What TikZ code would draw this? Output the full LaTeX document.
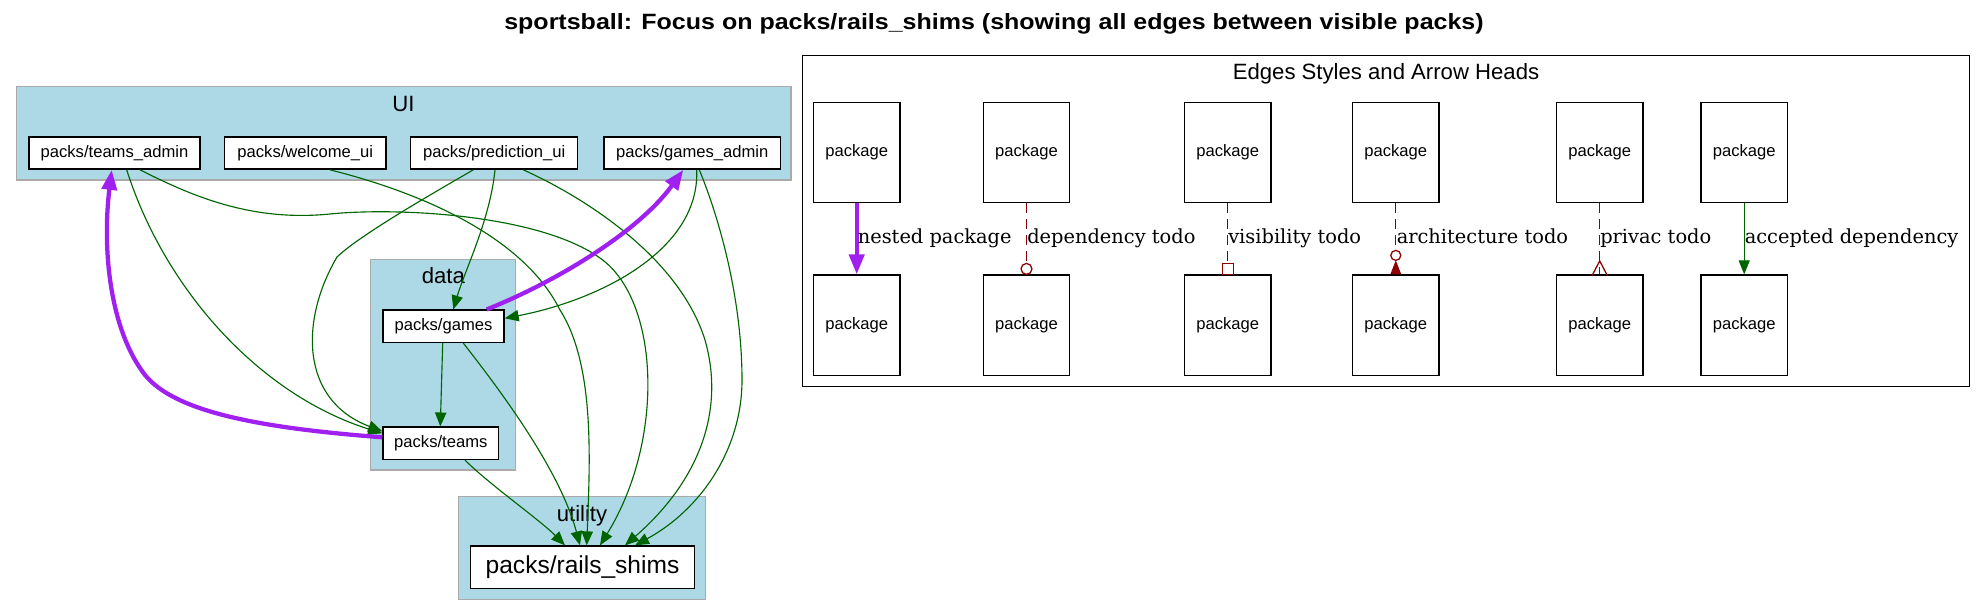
\documentclass[tikz,border=0pt]{standalone}
\usepackage{fontspec}
\setmainfont{Liberation Sans}
\newfontfamily\lblfont{DejaVu Serif}
\usetikzlibrary{arrows.meta,calc}
\definecolor{gvpurple}{RGB}{160,32,240}
\definecolor{gvgreen}{RGB}{0,100,0}
\definecolor{gvred}{RGB}{139,0,0}
\definecolor{gvblue}{RGB}{173,216,230}
\definecolor{gvgray}{RGB}{170,170,170}
\begin{document}
\begin{tikzpicture}[x=0.75pt,y=-0.75pt,
  pack/.style={draw=black, line width=1.05pt, fill=white, inner sep=0pt, minimum height=24.2pt, font=\fontsize{12.45}{14}\selectfont},
  legpack/.style={draw=black, line width=1.05pt, fill=white, inner sep=0pt, minimum width=64.9pt, minimum height=75.3pt, font=\fontsize{12.45}{14}\selectfont},
  cluster/.style={fill=gvblue, draw=gvgray, line width=1.05pt},
  clabel/.style={font=\fontsize{16.6}{20}\selectfont, anchor=base, inner sep=0pt},
  dep/.style={color=gvgreen, line width=0.85pt, -{Triangle[length=10.5pt,width=8.5pt]}},
  nest/.style={color=gvpurple, line width=3.2pt, -{Triangle[length=15pt,width=11.25pt]}},
  todo/.style={color=gvred, line width=0.95pt, dash pattern=on 7.5pt off 4.5pt},
  tiptodo/.style={color=gvred, line width=0.95pt},
  elabel/.style={font=\lblfont\fontsize{14.55}{17}\selectfont, anchor=base west, inner sep=0pt},
]
\useasboundingbox (0,0) rectangle (1986,616);

% title
\node[font=\bfseries\fontsize{16.6}{20}\selectfont, anchor=base, inner sep=0pt] (title) at (994,29.5)
  {\scalebox{1.13}[1]{sportsball: Focus on packs/rails\_shims (showing all edges between visible packs)}};

% clusters
\draw[cluster] (16.3,86.7) rectangle (790.8,180);
\node[clabel] (uilbl) at (403.5,111.7) {UI};
\draw[cluster] (370.7,259.3) rectangle (515.7,470);
\node[clabel] (datalbl) at (443.3,284) {data};
\draw[cluster] (458.3,496.3) rectangle (705.7,599.3);
\node[clabel] (utillbl) at (582,521.7) {utility};

% nodes
\node[pack, minimum width=128.25pt] (ta) at (114.5,153) {packs/teams\_admin};
\node[pack, minimum width=121pt] (wel) at (305.3,153) {packs/welcome\_ui};
\node[pack, minimum width=125.25pt] (pred) at (494.2,153) {packs/prediction\_ui};
\node[pack, minimum width=132.45pt] (gadm) at (692.3,153) {packs/games\_admin};
\node[pack, minimum width=90.75pt] (games) at (443.5,326.3) {packs/games};
\node[pack, minimum width=86.8pt] (teams) at (440.8,443.3) {packs/teams};
\node[pack, minimum width=168.3pt, minimum height=31.7pt, font=\fontsize{18.4}{22}\selectfont] (rails) at (582.5,567.2) {packs/rails\_shims};

% green dependency edges
\draw[dep] ($(ta.south)+(12.2,0)$) .. controls (165,290) and (260,395) .. ($(teams.west)+(0,-10)$);
\draw[dep] ($(ta.south)+(25.5,0)$) .. controls (190,195) and (250,222) .. (330,214)
   .. controls (400,207) and (540,215) .. (600,258)
   .. controls (660,300) and (665,440) .. ($(rails.north)+(17.5,0)$);
\draw[dep] ($(wel.south)+(24.7,0)$) .. controls (430,195) and (525,240) .. (560,310)
   .. controls (595,365) and (590,460) .. ($(rails.north)+(4.2,0)$);
\draw[dep] ($(pred.south)+(-20.9,0)$) .. controls (430,195) and (360,235) .. (337,257)
   .. controls (300,320) and (300,400) .. ($(teams.west)+(0,-12)$);
\draw[dep] ($(pred.south)+(0.8,0)$) .. controls (490,220) and (465,270) .. ($(games.north)+(9.8,0)$);
\draw[dep] ($(pred.south)+(29.1,0)$) .. controls (590,200) and (680,260) .. (705,340)
   .. controls (725,410) and (700,480) .. ($(rails.north)+(42.5,0)$);
\draw[dep] ($(gadm.south)+(4.4,0)$) .. controls (700,250) and (600,300) .. ($(games.east)+(0,-8)$);
\draw[dep] ($(gadm.south)+(7,0)$) .. controls (720,220) and (742,300) .. (742,380)
   .. controls (742,450) and (700,510) .. ($(rails.north)+(52.5,0)$);
\draw[dep] ($(games.south)+(-0.8,0)$) -- ($(teams.north)+(-0.5,0)$);
\draw[dep] ($(games.south)+(19.8,0)$) .. controls (500,390) and (560,470) .. ($(rails.north)+(-2.5,0)$);
\draw[dep] ($(teams.south)+(24.2,0)$) .. controls (490,485) and (540,520) .. ($(rails.north)+(-17.5,0)$);

% purple nested edges
\draw[nest] ($(teams.west)+(0,-6)$) .. controls (260,428) and (175,412) .. (145,375)
   .. controls (110,330) and (102,250) .. ($(ta.south)+(-2.8,0)$);
\draw[nest] ($(games.north)+(43.2,0)$) .. controls (560,280) and (640,230) .. ($(gadm.south)+(-9,0)$);

% legend
\draw[line width=1.05pt] (802.2,55.7) rectangle (1969.5,386.7);
\node[clabel] (legtitle) at (1386,79.3) {Edges Styles and Arrow Heads};

\node[legpack] (l1t) at (856.7,152.5) {package};
\node[legpack] (l1b) at (856.7,325.3) {package};
\node[legpack] (l2t) at (1026.5,152.5) {package};
\node[legpack] (l2b) at (1026.5,325.3) {package};
\node[legpack] (l3t) at (1227.8,152.5) {package};
\node[legpack] (l3b) at (1227.8,325.3) {package};
\node[legpack] (l4t) at (1395.8,152.5) {package};
\node[legpack] (l4b) at (1395.8,325.3) {package};
\node[legpack] (l5t) at (1599.7,152.5) {package};
\node[legpack] (l5b) at (1599.7,325.3) {package};
\node[legpack] (l6t) at (1744.2,152.5) {package};
\node[legpack] (l6b) at (1744.2,325.3) {package};

% nested package
\draw[nest] (l1t.south) -- (l1b.north);
\node[elabel] (e1) at (857.5,243.7) {nested package};
% dependency todo
\draw[todo] (l2t.south) -- ($(l2b.north)+(0,-11)$);
\draw[tiptodo, fill=white] ($(l2b.north)+(0,-5.5)$) circle[radius=4.1pt];
\node[elabel] (e2) at (1027,243.7) {dependency todo};
% visibility todo
\draw[todo] (l3t.south) -- ($(l3b.north)+(0,-11)$);
\draw[tiptodo, fill=white] ($(l3b.north)+(-5.5,-11)$) rectangle ($(l3b.north)+(5.5,0)$);
\node[elabel] (e3) at (1228,243.7) {visibility todo};
% architecture todo
\draw[todo] (l4t.south) -- ($(l4b.north)+(0,-24)$);
\draw[tiptodo, fill=white] ($(l4b.north)+(0,-19)$) circle[radius=3.75pt];
\fill[gvred] ($(l4b.north)+(0,-14)$) -- ($(l4b.north)+(5.5,0)$) -- ($(l4b.north)+(-5.5,0)$) -- cycle;
\node[elabel] (e4) at (1396.5,243.7) {architecture todo};
% privac todo
\draw[todo] (l5t.south) -- (l5b.north);
\draw[tiptodo] ($(l5b.north)+(-7.8,1.5)$) -- ($(l5b.north)+(0,-13.5)$) -- ($(l5b.north)+(7.8,1.5)$);
\node[elabel] (e5) at (1600,243.7) {privac todo};
% accepted dependency
\draw[dep, -{Triangle[length=10.5pt,width=8.25pt]}] (l6t.south) -- (l6b.north);
\node[elabel] (e6) at (1744.5,243.7) {accepted dependency};
\end{tikzpicture}
\end{document}
